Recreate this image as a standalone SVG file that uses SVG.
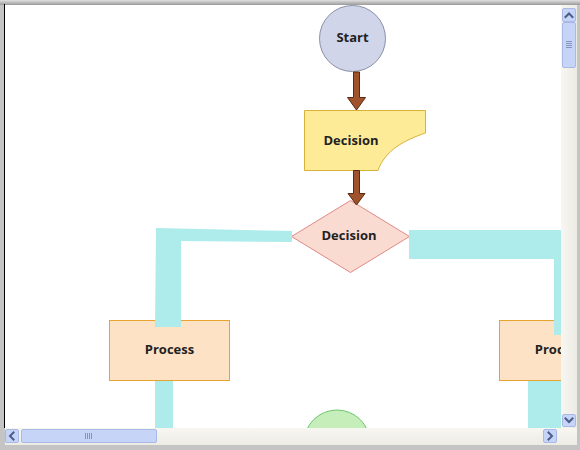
<svg xmlns="http://www.w3.org/2000/svg" width="580" height="450" viewBox="0 0 580 450">
<style>
.lbl{font-family:"Open Sans","Noto Sans","Liberation Sans",sans-serif;font-size:13px;font-weight:bold;fill:#222;text-anchor:middle}
.conn{fill:#aeecec;stroke:none}
.arrow{fill:#a0522d;stroke:#5a2a12;stroke-width:1}
.proc{fill:#fde2c6;stroke:#e6a42e;stroke-width:1}
.btn{fill:#c6d4f8;stroke:#a9b9e6;stroke-width:1}
.chev{fill:none;stroke:#4a5e86;stroke-width:2;stroke-linecap:square}
</style>
<defs>
<clipPath id="view"><rect x="5" y="5" width="556" height="423"/></clipPath>
<linearGradient id="topg" x1="0" y1="0" x2="0" y2="1"><stop offset="0" stop-color="#e0e0e0"/><stop offset="1" stop-color="#9a9a9a"/></linearGradient>
<linearGradient id="vtrack" x1="0" y1="0" x2="1" y2="0"><stop offset="0" stop-color="#f7f6f1"/><stop offset="1" stop-color="#ecebe4"/></linearGradient>
<linearGradient id="htrack" x1="0" y1="0" x2="0" y2="1"><stop offset="0" stop-color="#f7f6f1"/><stop offset="1" stop-color="#ecebe4"/></linearGradient>
</defs>
<!-- window frame -->
<rect x="0" y="0" width="580" height="450" fill="#c4c4c4"/>
<rect x="0" y="0" width="580" height="5" fill="url(#topg)"/>
<rect x="5" y="5" width="556" height="423" fill="#ffffff"/>
<line x1="4.5" y1="4" x2="4.5" y2="428" stroke="#000" stroke-width="1"/>

<g clip-path="url(#view)">
  <g id="node-start">
    <circle cx="352.5" cy="38.5" r="33" fill="#d0d5ea" stroke="#8b90a6" stroke-width="1"/>
    <text class="lbl" x="352.5" y="41.5">Start</text>
  </g>
  <g id="node-decision1">
    <path d="M304.5,110.5 H425.5 V133 C405,140 385,150 378,170.5 H304.5 Z" fill="#feeb98" stroke="#d8b23a" stroke-width="1"/>
    <text class="lbl" x="351" y="144.5">Decision</text>
  </g>
  <g id="node-decision2">
    <polygon points="350.5,200.5 409.5,236.5 350.5,272.5 291.5,236.5" fill="#fadbd2" stroke="#e08a86" stroke-width="1"/>
    <text class="lbl" x="349" y="239.5">Decision</text>
  </g>
  <g id="node-process1">
    <rect class="proc" x="109.5" y="320.5" width="120" height="60"/>
    <text class="lbl" x="169.5" y="353.5">Process</text>
  </g>
  <g id="node-process2">
    <rect class="proc" x="499.5" y="320.5" width="120" height="60"/>
    <text class="lbl" x="559.5" y="353.5">Process</text>
  </g>
  <g id="node-end">
    <circle cx="337" cy="443" r="33" fill="#c5eebb" stroke="#6cc66c" stroke-width="1"/>
  </g>
  <g id="connectors">
    <path class="arrow" d="M353.5,72 H359.5 V97.5 H365.5 L356.5,110 L347.5,97.5 H353.5 Z"/>
    <path class="arrow" d="M353.5,170.5 H359.5 V193.5 H365 L356.5,205 L348,193.5 H353.5 Z"/>
    <polygon class="conn" points="156,228 292,231 292,242 181,241 181,327 155,327"/>
    <polygon class="conn" points="409,230 580,230 580,335 554,335 554,259 409,259"/>
    <rect class="conn" x="155" y="381" width="18" height="50"/>
    <rect class="conn" x="528" y="381" width="40" height="50"/>
  </g>
</g>

<!-- vertical scrollbar -->
<rect x="561" y="5" width="16" height="423" fill="url(#vtrack)"/>
<rect class="btn" x="562.5" y="8.5" width="13" height="13" rx="1.5"/>
<polyline class="chev" points="565.5,17 569,13.5 572.5,17"/>
<rect class="btn" x="562.5" y="22.5" width="13" height="45" rx="1.5"/>
<g stroke="#8594bd" stroke-width="1">
<line x1="566" y1="41.5" x2="572" y2="41.5"/><line x1="566" y1="43.5" x2="572" y2="43.5"/><line x1="566" y1="45.5" x2="572" y2="45.5"/><line x1="566" y1="47.5" x2="572" y2="47.5"/>
</g>
<rect class="btn" x="562.5" y="414.5" width="13" height="12" rx="1.5"/>
<polyline class="chev" points="565.5,418.5 569,422 572.5,418.5"/>
<!-- horizontal scrollbar -->
<rect x="5" y="428" width="572" height="17" fill="url(#htrack)"/>
<rect class="btn" x="5.5" y="429.5" width="13" height="13" rx="1.5"/>
<polyline class="chev" points="13.5,432.5 10,436 13.5,439.5"/>
<rect class="btn" x="21.5" y="429.5" width="135" height="13" rx="1.5"/>
<g stroke="#8594bd" stroke-width="1">
<line x1="85.5" y1="433" x2="85.5" y2="439"/><line x1="87.5" y1="433" x2="87.5" y2="439"/><line x1="89.5" y1="433" x2="89.5" y2="439"/><line x1="91.5" y1="433" x2="91.5" y2="439"/>
</g>
<rect class="btn" x="543.5" y="429.5" width="13" height="13" rx="1.5"/>
<polyline class="chev" points="548.5,432.5 552,436 548.5,439.5"/>
</svg>
